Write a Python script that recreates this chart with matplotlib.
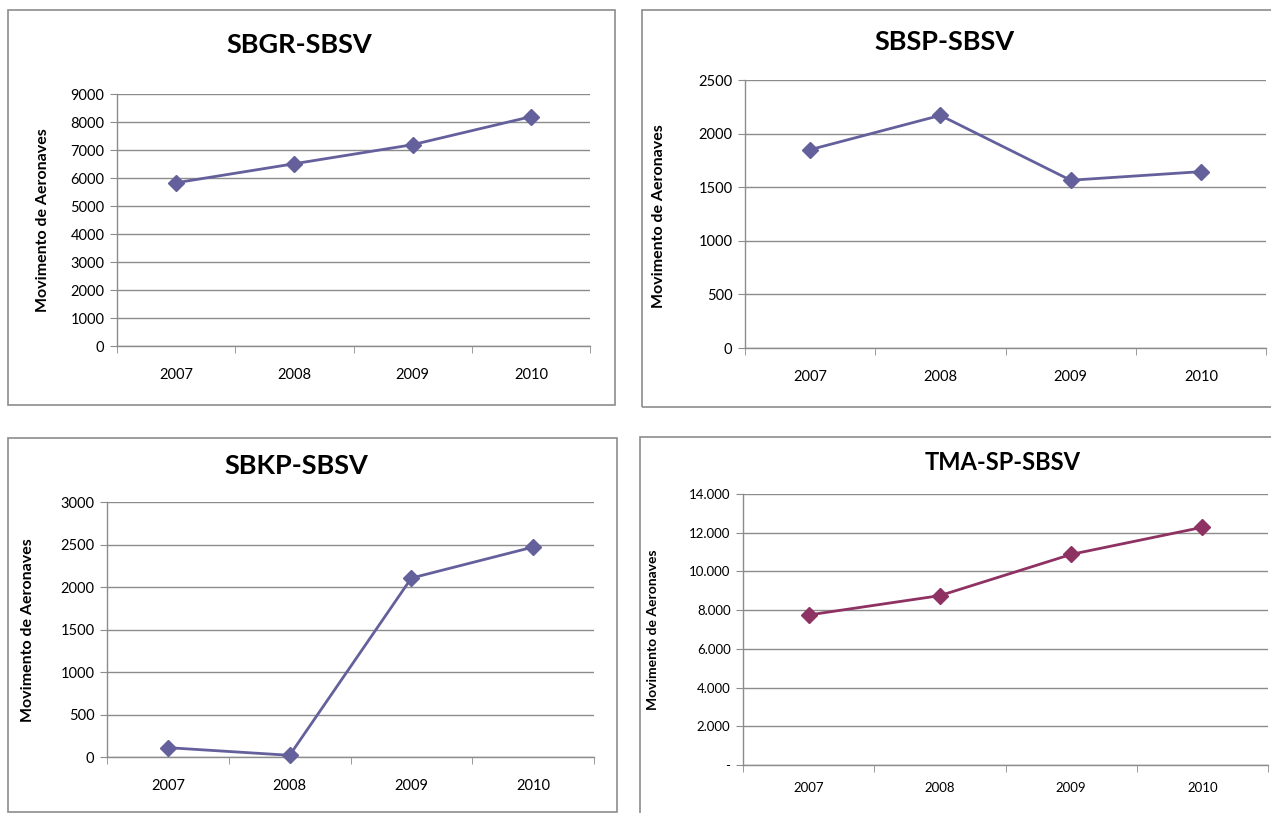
import matplotlib
matplotlib.use("Agg")
import matplotlib.pyplot as plt
from matplotlib.patches import Rectangle
from matplotlib.ticker import FixedLocator, FixedFormatter

plt.rcParams['font.family'] = ['Lato', 'DejaVu Sans']

anos = ["2007", "2008", "2009", "2010"]
sbgr = [5830, 6510, 7190, 8190]
sbsp = [1850, 2170, 1565, 1645]
sbkp = [110, 20, 2105, 2470]
tma = [7750, 8750, 10880, 12280]

titulos = ["SBGR-SBSV", "SBSP-SBSV", "SBKP-SBSV", "TMA-SP-SBSV"]
ylabel = "Movimento de Aeronaves"

W, H = 1271, 813
fig = plt.figure(figsize=(W / 100, H / 100), dpi=100)
fig.patch.set_facecolor("white")


def px_rect(x0, y0, x1, y1):
    return [x0 / W, 1 - y1 / H, (x1 - x0) / W, (y1 - y0) / H]


def box(x0, y0, x1, y1):
    fig.patches.append(Rectangle((x0 / W, 1 - y1 / H), (x1 - x0) / W, (y1 - y0) / H,
                                 transform=fig.transFigure, fill=False,
                                 edgecolor="#8c8c8c", lw=1.2))


def painel(rect_px, valores, ymax, passo, titulo, tpos, lpos, cor,
           fs_tick=10.5, fs_lab=11.5, fs_tit=19.5, xpad=16, ylabels=None):
    ax = fig.add_axes(px_rect(*rect_px))
    x = list(range(len(anos)))
    ax.plot(x, valores, color=cor, lw=2, marker="D", markersize=8, zorder=3,
            clip_on=False)
    ax.set_xlim(-0.5, len(anos) - 0.5)
    ax.set_ylim(0, ymax)
    yt = list(range(0, ymax + 1, passo))
    ax.yaxis.set_major_locator(FixedLocator(yt))
    if ylabels is not None:
        ax.yaxis.set_major_formatter(FixedFormatter(ylabels))
    ax.set_xticks(x)
    ax.set_xticklabels(anos)
    ax.set_xticks([i - 0.5 for i in range(len(anos) + 1)], minor=True)
    ax.tick_params(axis="x", which="major", length=0, pad=xpad, labelsize=fs_tick)
    ax.tick_params(axis="x", which="minor", length=5, color="#8c8c8c", direction="out")
    ax.tick_params(axis="y", length=5, color="#8c8c8c", direction="out", pad=4,
                   labelsize=fs_tick)
    ax.grid(axis="y", color="#8c8c8c", lw=1)
    ax.set_axisbelow(True)
    for s in ["top", "right"]:
        ax.spines[s].set_visible(False)
    for s in ["left", "bottom"]:
        ax.spines[s].set_color("#8c8c8c")
        ax.spines[s].set_linewidth(1)
    fig.text(tpos[0] / W, 1 - tpos[1] / H, titulo, ha="center", va="center",
             fontsize=fs_tit, fontweight="bold")
    fig.text(lpos[0] / W, 1 - lpos[1] / H, ylabel, ha="center", va="center",
             rotation=90, fontsize=fs_lab, fontweight="bold")
    return ax


cor1 = "#64609c"
cor2 = "#8e3163"

box(8, 10, 615, 405)
box(642, 10, 1275, 407)
box(8, 438, 617, 812)
box(640, 437, 1275, 816)

painel((117, 94, 590, 346), sbgr, 9000, 1000, titulos[0], (299, 45), (43, 220), cor1)
painel((745, 80, 1266, 348), sbsp, 2500, 500, titulos[1], (944, 42), (659, 216), cor1)
painel((107, 502, 594, 757), sbkp, 3000, 500, titulos[2], (296, 466), (28, 630), cor1)
painel((743, 494, 1268, 765), tma, 14000, 2000, titulos[3], (1003, 462), (653, 630), cor2,
       fs_tick=9.5, fs_lab=10, fs_tit=17, xpad=12,
       ylabels=["-", "2.000", "4.000", "6.000", "8.000", "10.000", "12.000", "14.000"])

fig.savefig("out.png", dpi=100, facecolor="white")
